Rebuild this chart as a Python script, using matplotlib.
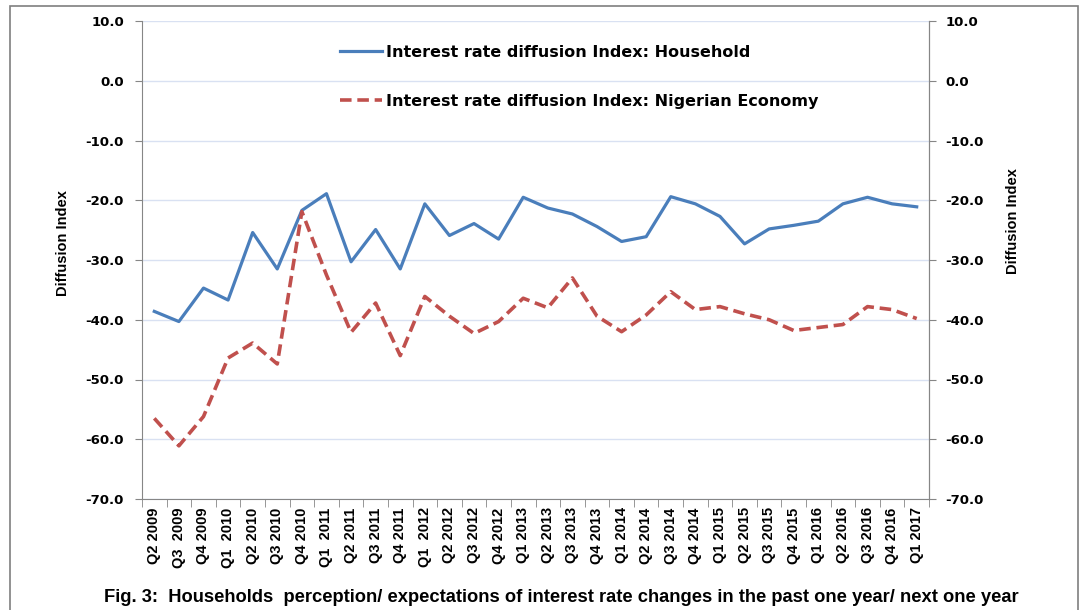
import matplotlib
matplotlib.use("Agg")
import matplotlib.pyplot as plt
from matplotlib.patches import Rectangle
import numpy as np

plt.rcParams['font.family'] = ['Liberation Sans', 'DejaVu Sans']

quarters = ['Q2 2009', 'Q3  2009', 'Q4 2009', 'Q1  2010', 'Q2 2010', 'Q3 2010', 'Q4 2010',
            'Q1  2011', 'Q2 2011', 'Q3 2011', 'Q4 2011', 'Q1  2012', 'Q2 2012', 'Q3 2012',
            'Q4 2012', 'Q1 2013', 'Q2 2013', 'Q3 2013', 'Q4 2013', 'Q1 2014', 'Q2 2014',
            'Q3 2014', 'Q4 2014', 'Q1 2015', 'Q2 2015', 'Q3 2015', 'Q4 2015', 'Q1 2016',
            'Q2 2016', 'Q3 2016', 'Q4 2016', 'Q1 2017']
household = [-38.6, -40.3, -34.7, -36.7, -25.4, -31.5, -21.7, -18.9, -30.3, -24.9, -31.5,
             -20.6, -25.9, -23.9, -26.5, -19.5, -21.3, -22.3, -24.4, -26.9, -26.1, -19.4,
             -20.6, -22.7, -27.3, -24.8, -24.2, -23.5, -20.6, -19.5, -20.6, -21.1]
economy = [-56.5, -61.1, -56.2, -46.4, -43.9, -47.4, -21.9, -32.5, -42.1, -37.2, -46.0,
           -36.1, -39.4, -42.3, -40.3, -36.4, -38.0, -33.0, -39.4, -42.0, -39.2, -35.3,
           -38.3, -37.8, -39.0, -40.0, -41.8, -41.3, -40.8, -37.8, -38.3, -39.8]
yticks = np.arange(-70, 11, 10)

fig = plt.figure(figsize=(10.85, 6.1), dpi=100)
fig.patches.append(Rectangle((10 / 1085, -0.02), 1068 / 1085, 1.02 - 6 / 610,
                             transform=fig.transFigure, fill=False,
                             edgecolor='#7f7f7f', linewidth=1.2))

ax = fig.add_axes([142 / 1085, 1 - 499 / 610, 787 / 1085, 478 / 610])
x = np.arange(len(quarters))
ax.plot(x, household, color='#4A7EBB', lw=2.3, label='Interest rate diffusion Index: Household')
ax.plot(x, economy, color='#C0504D', lw=2.6, dashes=(3.2, 1.6),
        label='Interest rate diffusion Index: Nigerian Economy')

ax.set_xlim(-0.5, len(quarters) - 0.5)
ax.set_ylim(-70, 10)
ax.set_yticks(yticks)
ax.set_yticklabels([f'{v:.1f}' for v in yticks], fontsize=9.5, fontweight='bold',
                   family='DejaVu Sans')
ax.grid(axis='y', color='#D9E1F2', lw=1)
ax.set_axisbelow(True)

ax.set_xticks(x)
ax.set_xticklabels(quarters, rotation=90, fontsize=10.5, fontweight='bold')
ax.set_xticks(np.arange(-0.5, len(quarters), 1), minor=True)
ax.tick_params(axis='x', which='major', length=0, pad=6)
ax.tick_params(axis='x', which='minor', length=6, color='#868686')
ax.tick_params(axis='y', length=5, color='#868686', pad=8)

ax.spines['top'].set_visible(False)
for s in ['left', 'right', 'bottom']:
    ax.spines[s].set_color('#868686')

ax2 = ax.twinx()
ax2.set_ylim(-70, 10)
ax2.set_yticks(yticks)
ax2.set_yticklabels([f'{v:.1f}' for v in yticks], fontsize=9.5, fontweight='bold',
                    family='DejaVu Sans')
ax2.tick_params(axis='y', length=5, color='#868686', pad=7)
for s in ['top', 'left', 'bottom']:
    ax2.spines[s].set_visible(False)
ax2.spines['right'].set_color('#868686')

fig.text(63 / 1085, 1 - 243 / 610, 'Diffusion Index', rotation=90, ha='center', va='center',
         fontsize=10.5, fontweight='bold')
fig.text(1013 / 1085, 1 - 221 / 610, 'Diffusion Index', rotation=90, ha='center', va='center',
         fontsize=10.5, fontweight='bold')

ax.legend(loc='upper left', bbox_to_anchor=(340 / 1085, 1 - 45 / 610),
          bbox_transform=fig.transFigure, frameon=False, borderpad=0, borderaxespad=0,
          prop={'weight': 'bold', 'size': 11.5, 'family': 'DejaVu Sans'},
          handlelength=2.6, handletextpad=0.3, labelspacing=2.12)

fig.text(561 / 1085, 1 - 598 / 610, 'Fig. 3:  Households  perception/ expectations of interest rate '
         'changes in the past one year/ next one year', ha='center', va='center',
         fontsize=13.2, fontweight='bold')

fig.savefig('out.png', dpi=100)
